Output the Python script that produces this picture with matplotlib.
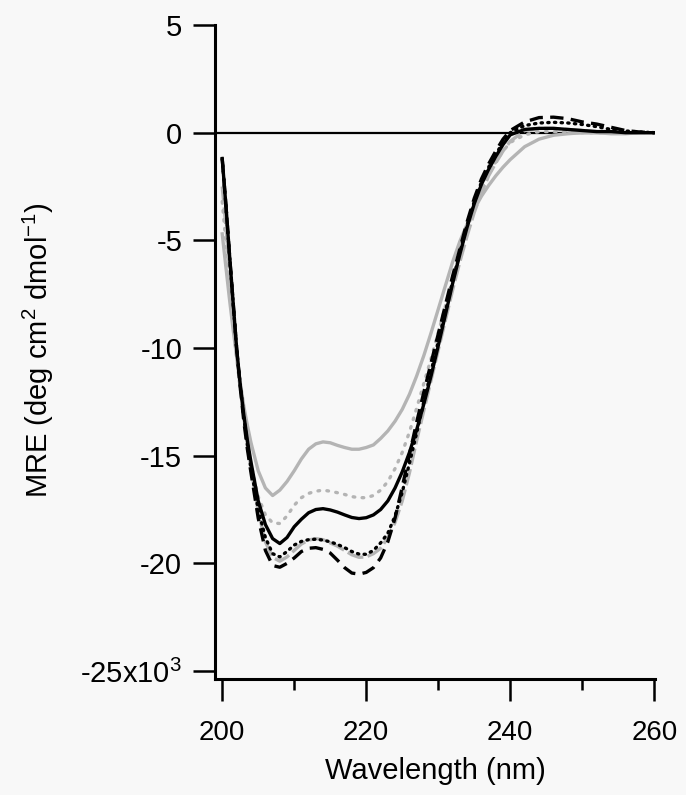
import matplotlib

matplotlib.use("Agg")
import matplotlib.pyplot as plt
from matplotlib.ticker import FixedLocator, FixedFormatter

plt.rcParams["font.family"] = ["Liberation Sans", "DejaVu Sans"]
plt.rcParams["mathtext.fontset"] = "custom"
plt.rcParams["mathtext.rm"] = "Liberation Sans"
plt.rcParams["mathtext.it"] = "Liberation Sans"
plt.rcParams["axes.unicode_minus"] = False

# wavelength grid (nm)
wl = [200, 200.5, 201, 201.5, 202, 202.5, 203, 203.5, 204, 205, 206, 207, 208, 209,
      210, 211, 212, 213, 214, 215, 216, 217, 218, 219, 220, 221, 222, 223, 224, 225,
      226, 227, 228, 229, 230, 231, 232, 233, 234, 235, 236, 237, 238, 239, 240,
      242, 244, 246, 248, 250, 252, 254, 256, 258, 260]

# MRE values (x10^3 deg cm2 dmol-1)
gray_solid = [-4.7, -6.2, -7.7, -9.1, -10.4, -11.6, -12.7, -13.6, -14.4, -15.7, -16.5, -16.85, -16.6, -16.2,
              -15.7, -15.15, -14.7, -14.45, -14.36, -14.4, -14.52, -14.62, -14.7, -14.7, -14.62, -14.5, -14.2, -13.85, -13.4, -12.85,
              -12.15, -11.3, -10.35, -9.3, -8.2, -7.1, -6.0, -5.05, -4.25, -3.55, -2.95, -2.45, -2.0, -1.6, -1.25,
              -0.65, -0.3, -0.12, -0.05, 0.0, 0.0, -0.05, -0.05, 0.0, 0.0]

gray_dotted = [-3.2, -5.0, -6.9, -8.7, -10.4, -11.9, -13.2, -14.4, -15.4, -16.9, -17.75, -18.12, -18.15, -17.8,
               -17.3, -16.95, -16.75, -16.65, -16.6, -16.65, -16.72, -16.8, -16.9, -16.95, -16.95, -16.85, -16.6, -16.2, -15.6, -14.85,
               -13.9, -12.8, -11.65, -10.5, -9.3, -8.05, -6.8, -5.6, -4.5, -3.5, -2.65, -1.95, -1.35, -0.85, -0.45,
               -0.1, 0.05, 0.05, 0.05, 0.0, 0.0, 0.0, 0.0, 0.0, 0.0]

black_solid = [-1.2, -3.3, -5.6, -7.8, -10.0, -11.7, -13.1, -14.3, -15.3, -17.1, -18.2, -18.85, -19.08, -18.8,
               -18.3, -17.95, -17.65, -17.5, -17.46, -17.52, -17.62, -17.75, -17.87, -17.92, -17.88, -17.75, -17.5, -17.1, -16.5, -15.75,
               -14.85, -13.8, -12.6, -11.3, -9.9, -8.45, -7.0, -5.65, -4.4, -3.3, -2.4, -1.7, -1.1, -0.55, -0.1,
               0.15, 0.2, 0.2, 0.15, 0.1, 0.05, 0.05, 0.0, 0.0, 0.0]

black_dotted = [-1.2, -3.3, -5.6, -7.8, -10.0, -11.7, -13.2, -14.5, -15.6, -17.5, -18.8, -19.55, -19.7, -19.45,
                -19.15, -18.98, -18.9, -18.88, -18.92, -19.0, -19.12, -19.27, -19.45, -19.57, -19.58, -19.4, -19.05, -18.6, -17.8, -16.7,
                -15.35, -13.95, -12.5, -11.1, -9.7, -8.3, -6.9, -5.55, -4.3, -3.2, -2.3, -1.6, -1.0, -0.45, 0.0,
                0.33, 0.45, 0.48, 0.45, 0.38, 0.28, 0.15, 0.08, 0.03, 0.0]

black_dashed = [-1.2, -3.3, -5.6, -7.8, -10.0, -11.8, -13.4, -14.7, -15.8, -17.9, -19.4, -20.1, -20.18, -20.0,
                -19.75, -19.45, -19.3, -19.27, -19.35, -19.52, -19.85, -20.2, -20.45, -20.5, -20.42, -20.2, -19.75, -19.0, -17.9, -16.45,
                -14.95, -13.45, -12.05, -10.7, -9.35, -8.0, -6.65, -5.4, -4.15, -3.05, -2.15, -1.45, -0.85, -0.3, 0.1,
                0.5, 0.7, 0.72, 0.65, 0.5, 0.4, 0.25, 0.1, 0.03, 0.0]

gray_dashed = [-2.5, -4.3, -6.3, -8.3, -10.2, -11.8, -13.2, -14.5, -15.6, -17.6, -19.0, -19.72, -19.9, -19.7,
               -19.4, -19.1, -18.92, -18.85, -18.9, -19.05, -19.2, -19.4, -19.6, -19.72, -19.7, -19.55, -19.3, -18.8, -18.1, -17.1,
               -15.8, -14.3, -12.9, -11.5, -10.1, -8.7, -7.3, -6.0, -4.8, -3.7, -2.8, -2.0, -1.4, -0.85, -0.4,
               0.1, 0.2, 0.2, 0.15, 0.1, 0.05, 0.0, 0.0, 0.0, 0.0]

y_ticks = [5, 0, -5, -10, -15, -20, -25]
y_labels = ["5", "0", "-5", "-10", "-15", "-20", r"-25x10$^3$"]
x_ticks = [200, 220, 240, 260]
x_minor = [210, 230, 250]

GRAY = "#b4b4b4"
BG = "#f8f8f8"

fig = plt.figure(figsize=(6.86, 7.95), dpi=100, facecolor=BG)
ax = fig.add_axes([215 / 686, 1 - 679 / 795, 440 / 686, 654 / 795])
ax.set_facecolor(BG)

ax.axhline(0, color="black", lw=1.6, zorder=1)

lw = 2.4
ax.plot(wl, gray_solid, color=GRAY, lw=lw)
ax.plot(wl, gray_dotted, color=GRAY, lw=lw, linestyle=(0, (0.5, 2.2)), dash_capstyle="round")
ax.plot(wl, gray_dashed, color=GRAY, lw=lw, linestyle=(0, (5, 1.3)))
ax.plot(wl, black_solid, color="black", lw=lw)
ax.plot(wl, black_dotted, color="black", lw=lw, linestyle=(0, (0.4, 1.6)), dash_capstyle="round")
ax.plot(wl, black_dashed, color="black", lw=lw, linestyle=(0, (4, 2.2)))

ax.set_xlim(199.0, 260.1)
ax.set_ylim(-25.37, 5)

for s in ["top", "right"]:
    ax.spines[s].set_visible(False)
for s in ["left", "bottom"]:
    ax.spines[s].set_linewidth(2.2)

ax.yaxis.set_major_locator(FixedLocator(y_ticks))
ax.yaxis.set_major_formatter(FixedFormatter(y_labels))
ax.xaxis.set_major_locator(FixedLocator(x_ticks))
ax.xaxis.set_minor_locator(FixedLocator(x_minor))

ax.tick_params(axis="y", direction="out", length=15.6, width=1.8, pad=8, labelsize=21)
ax.tick_params(axis="x", which="major", direction="out", length=15.6, width=1.8, pad=14, labelsize=20)
ax.tick_params(axis="x", which="minor", direction="out", length=8, width=1.8)

fig.text(435 / 686, 1 - 771 / 795, "Wavelength (nm)", ha="center", va="center", fontsize=21)
fig.text(38 / 686, 1 - 350 / 795, r"MRE (deg cm$^2$ dmol$^{-1}$)", ha="center", va="center",
         rotation=90, fontsize=21)

fig.savefig("out.png", dpi=100, facecolor=BG)
